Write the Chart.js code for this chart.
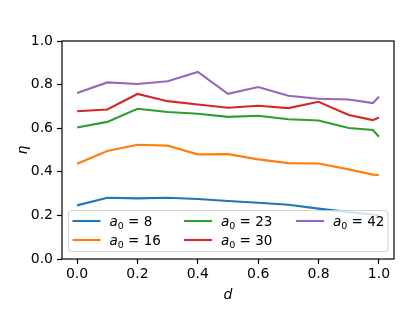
<!DOCTYPE html>
<html>
<head>
<meta charset="utf-8">
<script src="https://cdn.jsdelivr.net/npm/chart.js@4.4.1/dist/chart.umd.min.js"></script>
<style>
html,body{margin:0;padding:0;background:#fff;}
#c{display:block;}
</style>
</head>
<body>
<canvas id="c" width="415" height="312"></canvas>
<script>
// ---- data ----
const dValues = [0, 0.1, 0.2, 0.3, 0.4, 0.5, 0.6, 0.7, 0.8, 0.9, 0.98, 1.0];
const a0Values = [8, 16, 23, 30, 42];
const eta8  = [0.246, 0.281, 0.278, 0.281, 0.275, 0.266, 0.258, 0.249, 0.231, 0.215, 0.204, 0.200];
const eta16 = [0.437, 0.495, 0.524, 0.520, 0.480, 0.481, 0.457, 0.440, 0.438, 0.411, 0.387, 0.385];
const eta23 = [0.603, 0.629, 0.689, 0.674, 0.666, 0.652, 0.657, 0.641, 0.635, 0.601, 0.592, 0.561];
const eta30 = [0.678, 0.686, 0.757, 0.724, 0.709, 0.694, 0.703, 0.692, 0.721, 0.661, 0.637, 0.649];
const eta42 = [0.761, 0.810, 0.803, 0.815, 0.858, 0.758, 0.789, 0.749, 0.735, 0.732, 0.715, 0.744];
const xTicks = [0.0, 0.2, 0.4, 0.6, 0.8, 1.0];
const yTicks = [0.0, 0.2, 0.4, 0.6, 0.8, 1.0];
const xLabel = 'd';
const yLabel = 'η';

const seriesValues = [eta8, eta16, eta23, eta30, eta42];
const colors = ['#1f77b4', '#ff7f0e', '#2ca02c', '#d62728', '#9467bd'];

const datasets = seriesValues.map((vals, i) => ({
  label: 'a0 = ' + a0Values[i],
  data: dValues.map((d, j) => ({x: d, y: vals[j]})),
  borderColor: colors[i],
  backgroundColor: colors[i],
  borderWidth: 2.1,
  pointRadius: 0,
  tension: 0,
  fill: false
}));

const FONT = 'DejaVu Sans';
const FS = 13.5;
const TICK_FS = 14;

const framePlugin = {
  id: 'frame',
  afterDatasetsDraw(chart) {
    const {ctx, chartArea: a} = chart;
    ctx.save();
    ctx.strokeStyle = '#000';
    ctx.lineWidth = 1.2;
    ctx.strokeRect(a.left, a.top, a.right - a.left, a.bottom - a.top);
    ctx.restore();
  },
  afterDraw(chart) {
    const ctx = chart.ctx;
    ctx.save();
    // legend box
    const bx = 68.5, by = 210.5, bw = 319.5, bh = 41;
    ctx.beginPath();
    ctx.roundRect(bx, by, bw, bh, 3);
    ctx.fillStyle = 'rgba(255,255,255,0.8)';
    ctx.fill();
    ctx.strokeStyle = 'rgba(204,204,204,0.8)';
    ctx.lineWidth = 1.2;
    ctx.stroke();
    const colX = [72.5, 184, 296];
    const rowY = [221, 240];
    datasets.forEach((ds, i) => {
      const col = Math.floor(i / 2), row = i % 2;
      const x = colX[col], y = rowY[row];
      ctx.strokeStyle = ds.borderColor;
      ctx.lineWidth = 2.1;
      ctx.beginPath();
      ctx.moveTo(x, y);
      ctx.lineTo(x + 28, y);
      ctx.stroke();
      let tx = x + 37;
      const base = y + 5;
      ctx.fillStyle = '#000';
      ctx.textBaseline = 'alphabetic';
      ctx.textAlign = 'left';
      ctx.font = 'italic ' + FS + 'px "' + FONT + '"';
      ctx.fillText('a', tx, base);
      tx += ctx.measureText('a').width;
      ctx.font = '9.5px "' + FONT + '"';
      ctx.fillText('0', tx, base + 3);
      tx += ctx.measureText('0').width;
      ctx.font = FS + 'px "' + FONT + '"';
      ctx.fillText(' = ' + a0Values[i], tx, base);
    });
    ctx.restore();
  }
};

new Chart(document.getElementById('c'), {
  type: 'line',
  data: {datasets},
  options: {
    responsive: false,
    animation: false,
    devicePixelRatio: 1,
    layout: {padding: {top: 41, right: 21, left: 0, bottom: 0}},
    plugins: {legend: {display: false}, tooltip: {enabled: false}},
    scales: {
      x: {
        type: 'linear',
        min: -0.05,
        max: 1.05,
        afterBuildTicks(s) { s.ticks = xTicks.map(v => ({value: v})); },
        afterFit(s) { s.height = 53; },
        ticks: {
          callback: v => Number(v).toFixed(1),
          color: '#000',
          font: {family: FONT, size: TICK_FS},
          padding: 2,
          maxRotation: 0,
          autoSkip: false
        },
        grid: {drawOnChartArea: false, drawTicks: true, tickLength: 5, tickWidth: 1.2, tickColor: '#000'},
        border: {display: false},
        title: {display: true, text: xLabel, color: '#000',
                font: {family: FONT, size: 14, style: 'italic'}, padding: {top: 0, bottom: 8}}
      },
      y: {
        type: 'linear',
        min: 0,
        max: 1,
        afterBuildTicks(s) { s.ticks = yTicks.map(v => ({value: v})); },
        afterFit(s) { s.width = 62; },
        ticks: {
          callback: v => Number(v).toFixed(1),
          color: '#000',
          font: {family: FONT, size: TICK_FS},
          padding: 4,
          autoSkip: false
        },
        grid: {drawOnChartArea: false, drawTicks: true, tickLength: 5, tickWidth: 1.2, tickColor: '#000'},
        border: {display: false},
        title: {display: true, text: yLabel, color: '#000',
                font: {family: FONT, size: 14, style: 'italic'}, padding: {top: 15, bottom: 0}}
      }
    }
  },
  plugins: [framePlugin]
});
</script>
</body>
</html>
